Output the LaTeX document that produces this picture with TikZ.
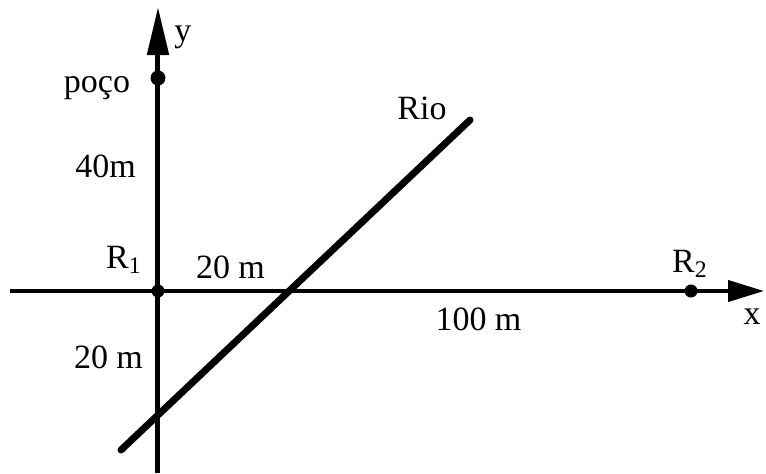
\documentclass[tikz,border=0pt]{standalone}
\usepackage{fontspec}
\setmainfont{Liberation Serif}
\usepackage{tikz}
\usetikzlibrary{arrows.meta}

\begin{document}
\begin{tikzpicture}[x=5pt, y=5pt, font=\fontsize{17}{20}\selectfont,
    lbl/.style={anchor=base},
    dot/.style={circle, fill, inner sep=0pt, minimum size=#1}]
    \useasboundingbox (-15.8, -18.2) rectangle (60.8, 29.1);

    \coordinate (xstart) at (-14.8, 0);
    \coordinate (xend) at (60.6, 0);
    \coordinate (ystart) at (0, -18.2);
    \coordinate (yend) at (0, 28.4);
    \coordinate (riostart) at (-3.7, -15.9);
    \coordinate (rioend) at (31.2, 17.1);

    \draw[line width=2pt, -{Triangle[length=18pt, width=10.5pt]}] (xstart) -- (xend);
    \draw[line width=2.5pt, -{Triangle[length=24pt, width=10.5pt]}] (ystart) -- (yend);
    \draw[line width=3.5pt, line cap=round] (riostart) -- (rioend);

    \node[dot=7.5pt] (poco) at (0, 21.3) {};
    \node[dot=6.5pt] (R1) at (0, 0) {};
    \node[dot=6.5pt] (R2) at (53.3, 0) {};

    \node[lbl] (ylabel) at (2.5, 25.0) {y};
    \node[lbl] (xlabel) at (59.4, -3.3) {x};
    \node[lbl] (pocolabel) at (-6.1, 19.9) {poço};
    \node[lbl] (riolabel) at (26.4, 17.2) {Rio};
    \node[lbl] (dist40) at (-5.25, 11.4) {40m};
    \node[lbl] (R1label) at (-3.4, 2.3) {R\textsubscript{1}};
    \node[lbl] (R2label) at (53.2, 1.9) {R\textsubscript{2}};
    \node[lbl] (dist20x) at (7.25, 1.3) {20 m};
    \node[lbl] (dist20y) at (-4.95, -7.7) {20 m};
    \node[lbl] (dist100) at (32.05, -3.9) {100 m};
\end{tikzpicture}
\end{document}
